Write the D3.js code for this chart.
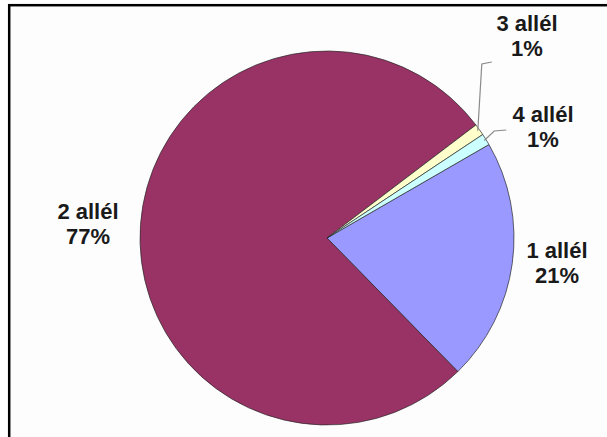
<!DOCTYPE html>
<html>
<head>
<meta charset="utf-8">
<script src="https://cdn.jsdelivr.net/npm/d3@7"></script>
<style>
  html, body { margin: 0; padding: 0; background: #ffffff; }
  svg { display: block; }
  text { font-family: "Liberation Sans", Arial, sans-serif; font-weight: bold; fill: #1a1a1a; }
</style>
</head>
<body>
<svg id="chart" width="607" height="437"></svg>
<script>
// Allele-count share, in percent
const categories = ["1 allél", "2 allél", "3 allél", "4 allél"];
const values = [21, 77, 1, 1];
const colors = ["#9999FF", "#993366", "#FFFFCC", "#CCFFFF"];

const W = 607, H = 437;
const cx = 327, cy = 238, R = 187;
const firstSliceDeg = 60;

const svg = d3.select("#chart");

// frame
svg.append("rect")
  .attr("x", 9.2).attr("y", 5.2)
  .attr("width", W + 20).attr("height", H + 20)
  .attr("fill", "#fdfdfd")
  .attr("stroke", "#000").attr("stroke-width", 2.5);

const pie = d3.pie().sort(null)
  .startAngle(firstSliceDeg * Math.PI / 180)
  .endAngle(firstSliceDeg * Math.PI / 180 + 2 * Math.PI);
const arcs = pie(values);
const arc = d3.arc().innerRadius(0).outerRadius(R);

const g = svg.append("g").attr("transform", `translate(${cx},${cy})`);

g.selectAll("path.slice")
  .data(arcs)
  .join("path")
  .attr("class", "slice")
  .attr("d", arc)
  .attr("fill", (d, i) => colors[i])
  .attr("stroke", "#2a2a2a")
  .attr("stroke-width", 0.7)
  .attr("stroke-linejoin", "round");

// label placement (label centre x, first baseline y) per slice
const labelPos = [
  [557, 258],
  [88, 219],
  [527, 31],
  [543, 122]
];
const lineGap = 25;

const labels = svg.append("g");
arcs.forEach((d, i) => {
  const [lx, ly] = labelPos[i];
  const t = labels.append("text")
    .attr("text-anchor", "middle")
    .attr("font-size", 22);
  t.append("tspan").attr("x", lx).attr("y", ly).text(categories[i]);
  t.append("tspan").attr("x", lx).attr("y", ly + lineGap).text(values[i] + "%");
});

// leader lines for the two thin slices
const mid = d => (d.startAngle + d.endAngle) / 2;
const edge = (d, r) => [cx + r * Math.sin(mid(d)), cy - r * Math.cos(mid(d))];
const leaders = svg.append("g")
  .attr("fill", "none").attr("stroke", "#8a8a8a").attr("stroke-width", 1.2);

{
  const d = arcs[2];
  const p0 = edge(d, R - 2);
  leaders.append("path").attr("d", d3.line()([p0, [p0[0] + 4, 64], [p0[0] + 14, 62]]));
}
{
  const d = arcs[3];
  const p0 = edge(d, R - 2);
  leaders.append("path").attr("d", d3.line()([p0, [p0[0] + 10, 131], [p0[0] + 22, 130]]));
}
</script>
</body>
</html>
